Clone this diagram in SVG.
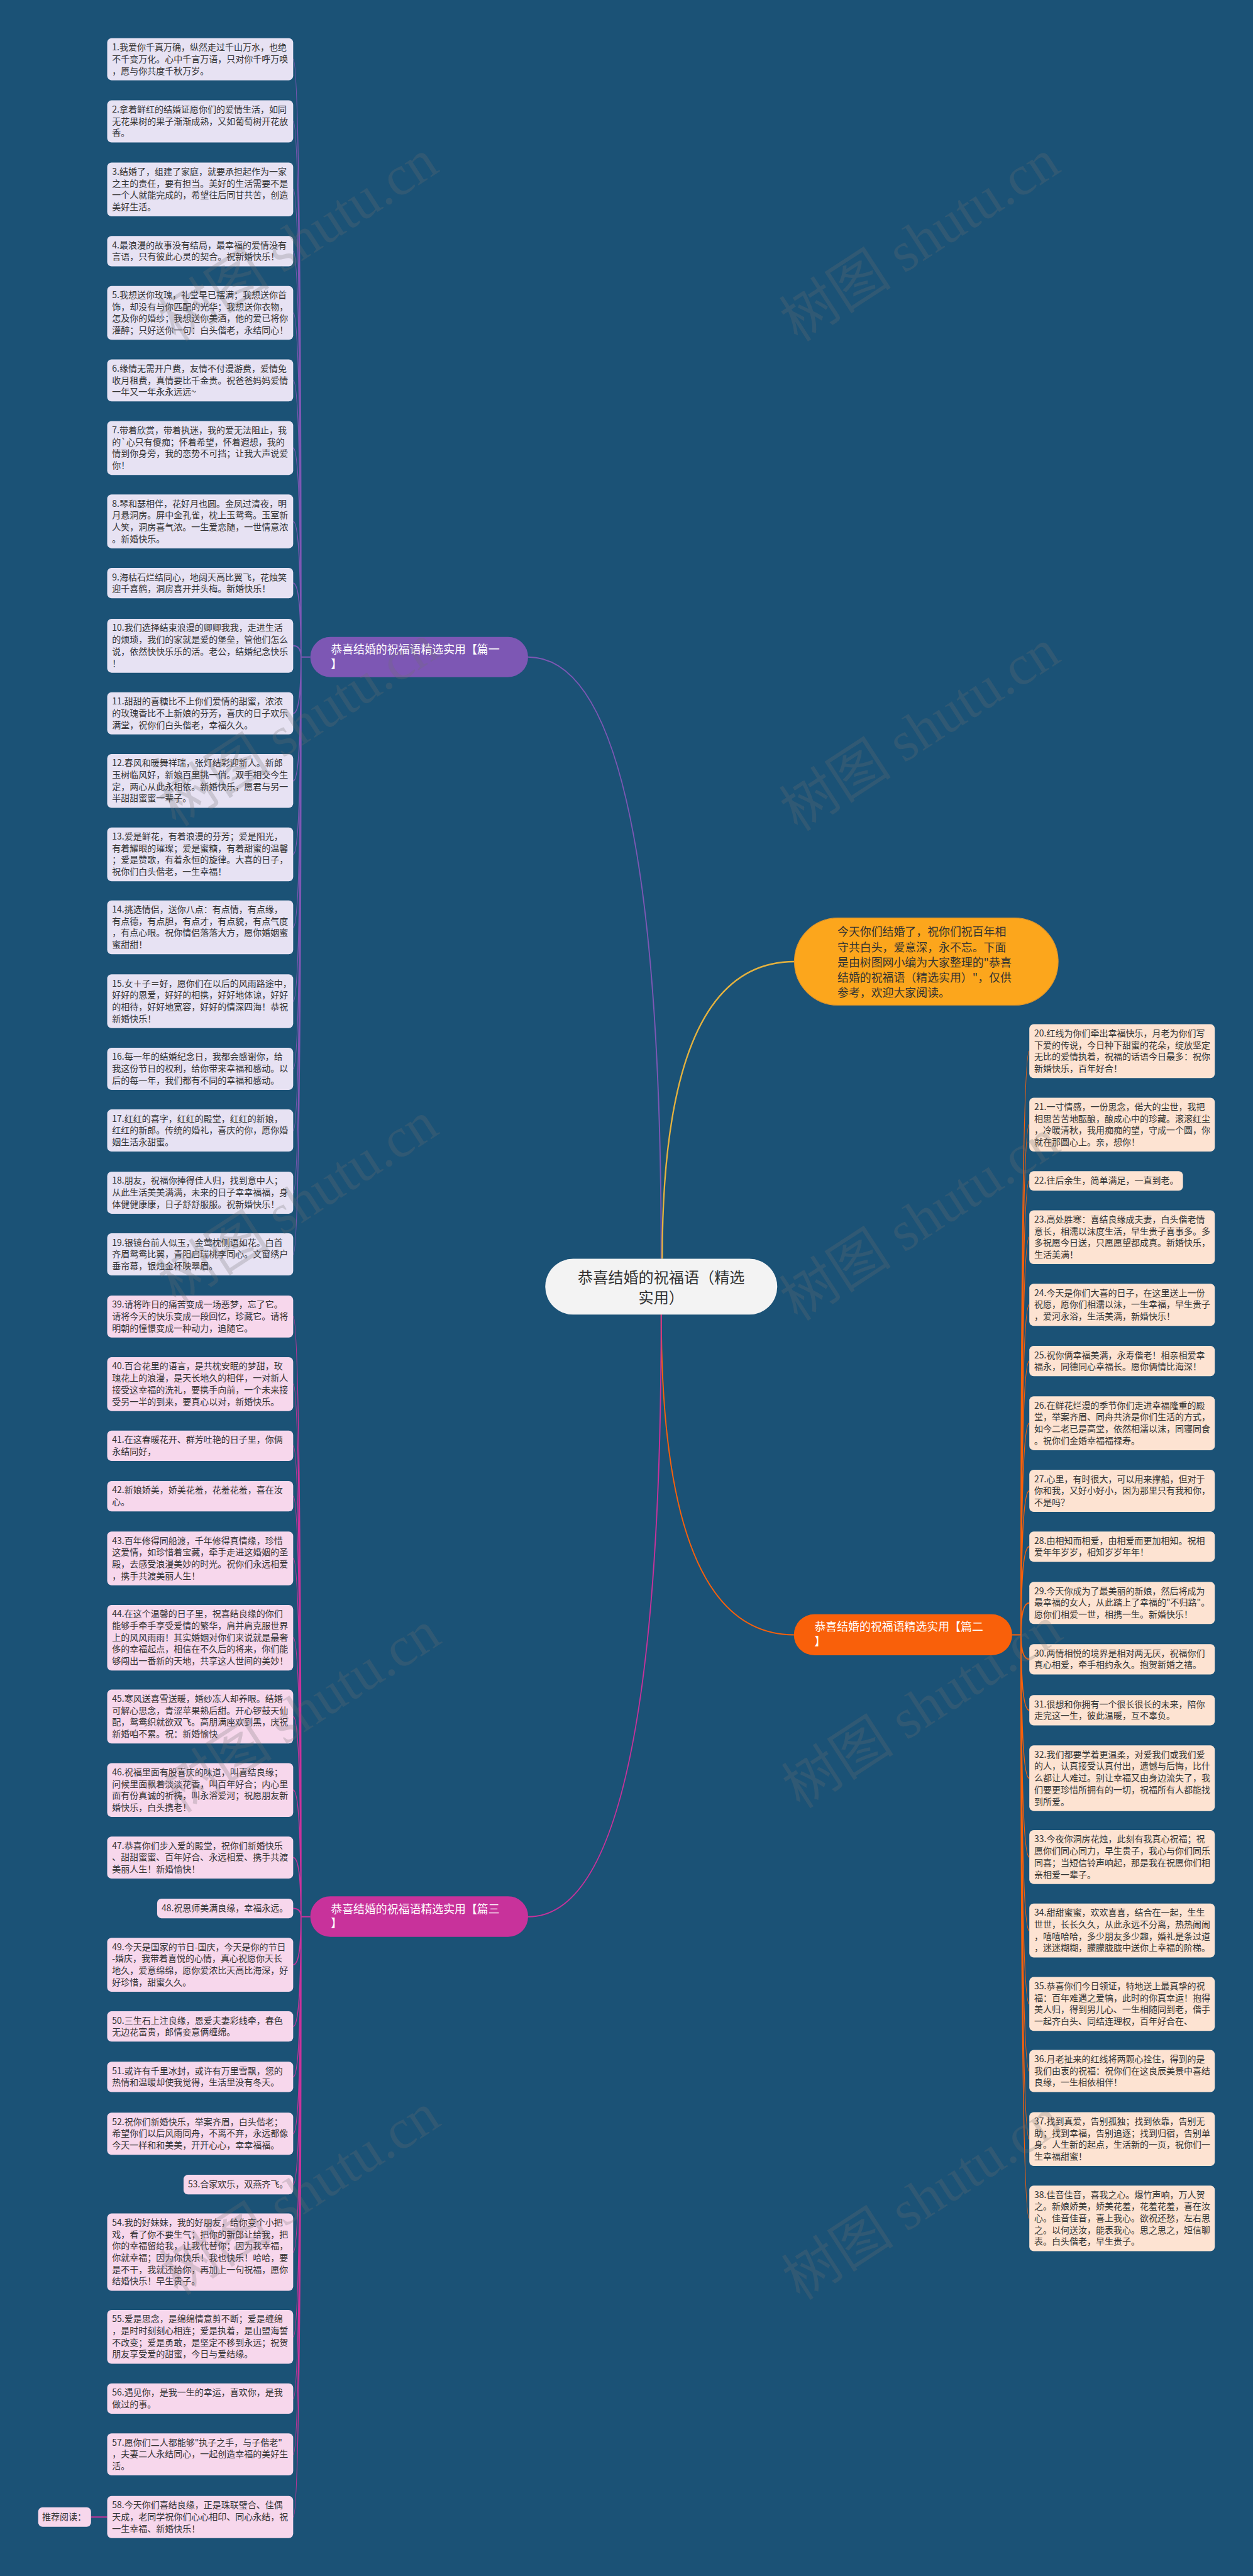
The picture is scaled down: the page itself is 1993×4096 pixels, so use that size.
<svg xmlns="http://www.w3.org/2000/svg" width="1993" height="4096" viewBox="0 0 1993 4096">
<style>
text{font-family:"Noto Sans CJK SC","Liberation Sans",sans-serif}
.t{font-size:18px;fill:#333333}
.lab{font-size:23px;fill:#ffffff}
.l1{fill:#E7E2F3}
.l2{fill:#FDE3D2}
.l3{fill:#F7D7EC}
.c1{fill:none;stroke:#7D57B4;stroke-width:2.5}
.c2{fill:none;stroke:#F9600A;stroke-width:2.5}
.c3{fill:none;stroke:#C8329B;stroke-width:2.5}
.wm{font-family:"Liberation Serif","Noto Sans CJK SC",serif;font-size:115px;fill:#707070;fill-opacity:0.25}
</style>
<rect width="1993" height="4096" fill="#1B5276"/>
<g transform="scale(0.7785)">
<g id="connectors">
<path d="M1351 2571 Q1351 1342 1079 1342" class="c1" stroke-width="3"/>
<path d="M1353 2571 Q1353 1964 1623 1964" fill="none" stroke="#E5B23E" stroke-width="3"/>
<path d="M1351 2685 Q1351 3339 1622 3339" class="c2" stroke-width="3"/>
<path d="M1351 2685 Q1351 3915 1079 3915" class="c3" stroke-width="3"/>
<path class="c1" d="M634 1342 H615 M615 1342 Q615 121 599 121 M615 1342 Q615 248 599 248 M615 1342 Q615 387 599 387 M615 1342 Q615 513 599 513 M615 1342 Q615 639 599 639 M615 1342 Q615 777 599 777 M615 1342 Q615 915 599 915 M615 1342 Q615 1065 599 1065 M615 1342 Q615 1191 599 1191 M615 1342 Q615 1319 599 1319 M615 1342 Q615 1457 599 1457 M615 1342 Q615 1595 599 1595 M615 1342 Q615 1745 599 1745 M615 1342 Q615 1894 599 1894 M615 1342 Q615 2045 599 2045 M615 1342 Q615 2183 599 2183 M615 1342 Q615 2309 599 2309 M615 1342 Q615 2436 599 2436 M615 1342 Q615 2562 599 2562"/>
<path class="c2" d="M2068 3339 H2086 M2086 3339 Q2086 2147 2103 2147 M2086 3339 Q2086 2297 2103 2297 M2086 3339 Q2086 2412 2103 2412 M2086 3339 Q2086 2527 2103 2527 M2086 3339 Q2086 2665 2103 2665 M2086 3339 Q2086 2780 2103 2780 M2086 3339 Q2086 2907 2103 2907 M2086 3339 Q2086 3045 2103 3045 M2086 3339 Q2086 3159 2103 3159 M2086 3339 Q2086 3274 2103 3274 M2086 3339 Q2086 3389 2103 3389 M2086 3339 Q2086 3493 2103 3493 M2086 3339 Q2086 3632 2103 3632 M2086 3339 Q2086 3793 2103 3793 M2086 3339 Q2086 3943 2103 3943 M2086 3339 Q2086 4093 2103 4093 M2086 3339 Q2086 4230 2103 4230 M2086 3339 Q2086 4369 2103 4369 M2086 3339 Q2086 4531 2103 4531"/>
<path class="c3" d="M634 3915 H615 M615 3915 Q615 2689 599 2689 M615 3915 Q615 2827 599 2827 M615 3915 Q615 2953 599 2953 M615 3915 Q615 3056 599 3056 M615 3915 Q615 3183 599 3183 M615 3915 Q615 3345 599 3345 M615 3915 Q615 3506 599 3506 M615 3915 Q615 3656 599 3656 M615 3915 Q615 3794 599 3794 M615 3915 Q615 3898 599 3898 M615 3915 Q615 4013 599 4013 M615 3915 Q615 4139 599 4139 M615 3915 Q615 4242 599 4242 M615 3915 Q615 4358 599 4358 M615 3915 Q615 4462 599 4462 M615 3915 Q615 4600 599 4600 M615 3915 Q615 4773 599 4773 M615 3915 Q615 4899 599 4899 M615 3915 Q615 5013 599 5013 M615 3915 Q615 5141 599 5141 M186 5141 H219"/>
</g>

<g id="root"><rect x="1114" y="2571" width="474" height="114" rx="57" fill="#F3F3F3"/><text font-size="31" fill="#333" text-anchor="middle"><tspan x="1351" y="2620">恭喜结婚的祝福语（精选</tspan><tspan x="1351" y="2661">实用）</tspan></text></g>

<g id="intro"><rect x="1623" y="1875" width="539" height="178" rx="89" fill="#FCA61C" stroke="#E0952A" stroke-width="1.5"/><text font-size="23" fill="#333"><tspan x="1711" y="1912">今天你们结婚了，祝你们祝百年相</tspan><tspan x="1711" y="1943">守共白头，爱意深，永不忘。下面</tspan><tspan x="1711" y="1974">是由树图网小编为大家整理的"恭喜</tspan><tspan x="1711" y="2005">结婚的祝福语（精选实用）"，仅供</tspan><tspan x="1711" y="2036">参考，欢迎大家阅读。</tspan></text></g>

<g id="b1"><rect x="634" y="1301" width="445" height="82" rx="41" fill="#7D57B4"/><text class="lab"><tspan x="676" y="1335">恭喜结婚的祝福语精选实用【篇一</tspan><tspan x="676" y="1364">】</tspan></text></g>
<g id="b2"><rect x="1622" y="3297" width="446" height="84" rx="42" fill="#F9600A"/><text class="lab"><tspan x="1664" y="3331">恭喜结婚的祝福语精选实用【篇二</tspan><tspan x="1664" y="3360">】</tspan></text></g>
<g id="b3"><rect x="634" y="3873" width="445" height="83" rx="41" fill="#C8329B"/><text class="lab"><tspan x="676" y="3907">恭喜结婚的祝福语精选实用【篇三</tspan><tspan x="676" y="3936">】</tspan></text></g>

<g id="n1"><rect class="l1" x="219" y="78" width="380" height="86" rx="9"/><text class="t"><tspan x="229" y="103">1.我爱你千真万确，纵然走过千山万水，也绝</tspan><tspan x="229" y="127">不千变万化。心中千言万语，只对你千呼万唤</tspan><tspan x="229" y="151">，愿与你共度千秋万岁。</tspan></text></g>
<g id="n2"><rect class="l1" x="219" y="205" width="380" height="86" rx="9"/><text class="t"><tspan x="229" y="230">2.拿着鲜红的结婚证愿你们的爱情生活，如同</tspan><tspan x="229" y="254">无花果树的果子渐渐成熟，又如葡萄树开花放</tspan><tspan x="229" y="278">香。</tspan></text></g>
<g id="n3"><rect class="l1" x="219" y="332" width="380" height="110" rx="9"/><text class="t"><tspan x="229" y="357">3.结婚了，组建了家庭，就要承担起作为一家</tspan><tspan x="229" y="381">之主的责任，要有担当。美好的生活需要不是</tspan><tspan x="229" y="405">一个人就能完成的，希望往后同甘共苦，创造</tspan><tspan x="229" y="429">美好生活。</tspan></text></g>
<g id="n4"><rect class="l1" x="219" y="482" width="380" height="62" rx="9"/><text class="t"><tspan x="229" y="507">4.最浪漫的故事没有结局，最幸福的爱情没有</tspan><tspan x="229" y="531">言语，只有彼此心灵的契合。祝新婚快乐！</tspan></text></g>
<g id="n5"><rect class="l1" x="219" y="584" width="380" height="110" rx="9"/><text class="t"><tspan x="229" y="609">5.我想送你玫瑰，礼堂早已摆满；我想送你首</tspan><tspan x="229" y="633">饰，却没有与你匹配的光华；我想送你衣物，</tspan><tspan x="229" y="657">怎及你的婚纱；我想送你美酒，他的爱已将你</tspan><tspan x="229" y="681">灌醉；只好送你一句：白头偕老，永结同心！</tspan></text></g>
<g id="n6"><rect class="l1" x="219" y="734" width="380" height="86" rx="9"/><text class="t"><tspan x="229" y="759">6.缘情无需开户费，友情不付漫游费，爱情免</tspan><tspan x="229" y="783">收月租费，真情要比千金贵。祝爸爸妈妈爱情</tspan><tspan x="229" y="807">一年又一年永永远远~</tspan></text></g>
<g id="n7"><rect class="l1" x="219" y="860" width="380" height="110" rx="9"/><text class="t"><tspan x="229" y="885">7.带着欣赏，带着执迷，我的爱无法阻止，我</tspan><tspan x="229" y="909">的`心只有傻痴；怀着希望，怀着遐想，我的</tspan><tspan x="229" y="933">情到你身旁，我的恋势不可挡；让我大声说爱</tspan><tspan x="229" y="957">你！</tspan></text></g>
<g id="n8"><rect class="l1" x="219" y="1010" width="380" height="110" rx="9"/><text class="t"><tspan x="229" y="1035">8.琴和瑟相伴，花好月也圆。金凤过清夜，明</tspan><tspan x="229" y="1059">月悬洞房。屏中金孔雀，枕上玉鸳鸯。玉室新</tspan><tspan x="229" y="1083">人笑，洞房喜气浓。一生爱恋随，一世情意浓</tspan><tspan x="229" y="1107">。新婚快乐。</tspan></text></g>
<g id="n9"><rect class="l1" x="219" y="1160" width="380" height="62" rx="9"/><text class="t"><tspan x="229" y="1185">9.海枯石烂结同心，地阔天高比翼飞，花烛笑</tspan><tspan x="229" y="1209">迎千喜鹤，洞房喜开并头梅。新婚快乐！</tspan></text></g>
<g id="n10"><rect class="l1" x="219" y="1264" width="380" height="110" rx="9"/><text class="t"><tspan x="229" y="1289">10.我们选择结束浪漫的卿卿我我，走进生活</tspan><tspan x="229" y="1313">的烦琐，我们的家就是爱的堡垒，管他们怎么</tspan><tspan x="229" y="1337">说，依然快快乐乐的活。老公，结婚纪念快乐</tspan><tspan x="229" y="1361">！</tspan></text></g>
<g id="n11"><rect class="l1" x="219" y="1414" width="380" height="86" rx="9"/><text class="t"><tspan x="229" y="1439">11.甜甜的喜糖比不上你们爱情的甜蜜，浓浓</tspan><tspan x="229" y="1463">的玫瑰香比不上新娘的芬芳，喜庆的日子欢乐</tspan><tspan x="229" y="1487">满堂，祝你们白头偕老，幸福久久。</tspan></text></g>
<g id="n12"><rect class="l1" x="219" y="1540" width="380" height="110" rx="9"/><text class="t"><tspan x="229" y="1565">12.春风和暖舞祥瑞，张灯结彩迎新人。新郎</tspan><tspan x="229" y="1589">玉树临风好，新娘百里挑一俏。双手相交今生</tspan><tspan x="229" y="1613">定，两心从此永相依。新婚快乐，愿君与另一</tspan><tspan x="229" y="1637">半甜甜蜜蜜一辈子。</tspan></text></g>
<g id="n13"><rect class="l1" x="219" y="1690" width="380" height="110" rx="9"/><text class="t"><tspan x="229" y="1715">13.爱是鲜花，有着浪漫的芬芳；爱是阳光，</tspan><tspan x="229" y="1739">有着耀眼的璀璨；爱是蜜糖，有着甜蜜的温馨</tspan><tspan x="229" y="1763">；爱是赞歌，有着永恒的旋律。大喜的日子，</tspan><tspan x="229" y="1787">祝你们白头偕老，一生幸福！</tspan></text></g>
<g id="n14"><rect class="l1" x="219" y="1839" width="380" height="110" rx="9"/><text class="t"><tspan x="229" y="1864">14.挑选情侣，送你八点：有点情，有点缘，</tspan><tspan x="229" y="1888">有点德，有点胆，有点才，有点貌，有点气度</tspan><tspan x="229" y="1912">，有点心眼。祝你情侣落落大方，愿你婚姻蜜</tspan><tspan x="229" y="1936">蜜甜甜！</tspan></text></g>
<g id="n15"><rect class="l1" x="219" y="1990" width="380" height="110" rx="9"/><text class="t"><tspan x="229" y="2015">15.女＋子＝好，愿你们在以后的风雨路途中，</tspan><tspan x="229" y="2039">好好的恩爱，好好的相携，好好地体谅，好好</tspan><tspan x="229" y="2063">的相待，好好地宽容，好好的情深四海！恭祝</tspan><tspan x="229" y="2087">新婚快乐！</tspan></text></g>
<g id="n16"><rect class="l1" x="219" y="2140" width="380" height="86" rx="9"/><text class="t"><tspan x="229" y="2165">16.每一年的结婚纪念日，我都会感谢你，给</tspan><tspan x="229" y="2189">我这份节日的权利，给你带来幸福和感动。以</tspan><tspan x="229" y="2213">后的每一年，我们都有不同的幸福和感动。</tspan></text></g>
<g id="n17"><rect class="l1" x="219" y="2266" width="380" height="86" rx="9"/><text class="t"><tspan x="229" y="2291">17.红红的喜字，红红的殿堂，红红的新娘，</tspan><tspan x="229" y="2315">红红的新郎。传统的婚礼，喜庆的你，愿你婚</tspan><tspan x="229" y="2339">姻生活永甜蜜。</tspan></text></g>
<g id="n18"><rect class="l1" x="219" y="2393" width="380" height="86" rx="9"/><text class="t"><tspan x="229" y="2418">18.朋友，祝福你捧得佳人归，找到意中人；</tspan><tspan x="229" y="2442">从此生活美美满满，未来的日子幸幸福福，身</tspan><tspan x="229" y="2466">体健健康康，日子舒舒服服。祝新婚快乐！</tspan></text></g>
<g id="n19"><rect class="l1" x="219" y="2519" width="380" height="86" rx="9"/><text class="t"><tspan x="229" y="2544">19.银镜台前人似玉，金莺枕侧语如花。白首</tspan><tspan x="229" y="2568">齐眉鸳鸯比翼，青阳启瑞桃李同心。文窗绣户</tspan><tspan x="229" y="2592">垂帘幕，银烛金杯映翠眉。</tspan></text></g>

<g id="n20"><rect class="l2" x="2103" y="2092" width="379" height="110" rx="9"/><text class="t"><tspan x="2113" y="2117">20.红线为你们牵出幸福快乐，月老为你们写</tspan><tspan x="2113" y="2141">下爱的传说，今日种下甜蜜的花朵，绽放坚定</tspan><tspan x="2113" y="2165">无比的爱情执着，祝福的话语今日最多：祝你</tspan><tspan x="2113" y="2189">新婚快乐，百年好合！</tspan></text></g>
<g id="n21"><rect class="l2" x="2103" y="2242" width="379" height="110" rx="9"/><text class="t"><tspan x="2113" y="2267">21.一寸情感，一份思念，偌大的尘世，我把</tspan><tspan x="2113" y="2291">相思苦苦地酝酿，酿成心中的珍藏。滚滚红尘</tspan><tspan x="2113" y="2315">，冷暖清秋，我用痴痴的望，守成一个圆，你</tspan><tspan x="2113" y="2339">就在那圆心上。亲，想你！</tspan></text></g>
<g id="n22"><rect class="l2" x="2103" y="2392" width="314" height="40" rx="9"/><text class="t"><tspan x="2113" y="2418">22.往后余生，简单满足，一直到老。</tspan></text></g>
<g id="n23"><rect class="l2" x="2103" y="2472" width="379" height="110" rx="9"/><text class="t"><tspan x="2113" y="2497">23.高处胜寒：喜结良缘成夫妻，白头偕老情</tspan><tspan x="2113" y="2521">意长，相濡以沫度生活，早生贵子喜事多。多</tspan><tspan x="2113" y="2545">多祝愿今日送，只愿愿望都成真。新婚快乐，</tspan><tspan x="2113" y="2569">生活美满！</tspan></text></g>
<g id="n24"><rect class="l2" x="2103" y="2622" width="379" height="86" rx="9"/><text class="t"><tspan x="2113" y="2647">24.今天是你们大喜的日子，在这里送上一份</tspan><tspan x="2113" y="2671">祝愿，愿你们相濡以沫，一生幸福，早生贵子</tspan><tspan x="2113" y="2695">，爱河永浴，生活美满，新婚快乐！</tspan></text></g>
<g id="n25"><rect class="l2" x="2103" y="2749" width="379" height="62" rx="9"/><text class="t"><tspan x="2113" y="2774">25.祝你俩幸福美满，永寿偕老！相亲相爱幸</tspan><tspan x="2113" y="2798">福永，同德同心幸福长。愿你俩情比海深！</tspan></text></g>
<g id="n26"><rect class="l2" x="2103" y="2852" width="379" height="110" rx="9"/><text class="t"><tspan x="2113" y="2877">26.在鲜花烂漫的季节你们走进幸福隆重的殿</tspan><tspan x="2113" y="2901">堂，举案齐眉、同舟共济是你们生活的方式，</tspan><tspan x="2113" y="2925">如今二老已是高堂，依然相濡以沫，同寝同食</tspan><tspan x="2113" y="2949">。祝你们金婚幸福福禄寿。</tspan></text></g>
<g id="n27"><rect class="l2" x="2103" y="3002" width="379" height="86" rx="9"/><text class="t"><tspan x="2113" y="3027">27.心里，有时很大，可以用来撑船，但对于</tspan><tspan x="2113" y="3051">你和我，又好小好小，因为那里只有我和你，</tspan><tspan x="2113" y="3075">不是吗？</tspan></text></g>
<g id="n28"><rect class="l2" x="2103" y="3128" width="379" height="62" rx="9"/><text class="t"><tspan x="2113" y="3153">28.由相知而相爱，由相爱而更加相知。祝相</tspan><tspan x="2113" y="3177">爱年年岁岁，相知岁岁年年！</tspan></text></g>
<g id="n29"><rect class="l2" x="2103" y="3231" width="379" height="86" rx="9"/><text class="t"><tspan x="2113" y="3256">29.今天你成为了最美丽的新娘，然后将成为</tspan><tspan x="2113" y="3280">最幸福的女人，从此踏上了幸福的"不归路"。</tspan><tspan x="2113" y="3304">愿你们相爱一世，相携一生。新婚快乐！</tspan></text></g>
<g id="n30"><rect class="l2" x="2103" y="3358" width="379" height="62" rx="9"/><text class="t"><tspan x="2113" y="3383">30.两情相悦的境界是相对两无厌，祝福你们</tspan><tspan x="2113" y="3407">真心相爱，牵手相约永久。抱贺新婚之禧。</tspan></text></g>
<g id="n31"><rect class="l2" x="2103" y="3462" width="379" height="62" rx="9"/><text class="t"><tspan x="2113" y="3487">31.很想和你拥有一个很长很长的未来，陪你</tspan><tspan x="2113" y="3511">走完这一生，彼此温暖，互不辜负。</tspan></text></g>
<g id="n32"><rect class="l2" x="2103" y="3565" width="379" height="134" rx="9"/><text class="t"><tspan x="2113" y="3590">32.我们都要学着更温柔，对爱我们或我们爱</tspan><tspan x="2113" y="3614">的人，认真接受认真付出，遗憾与后悔，比什</tspan><tspan x="2113" y="3638">么都让人难过。别让幸福又由身边流失了，我</tspan><tspan x="2113" y="3662">们要更珍惜所拥有的一切，祝福所有人都能找</tspan><tspan x="2113" y="3686">到所爱。</tspan></text></g>
<g id="n33"><rect class="l2" x="2103" y="3738" width="379" height="110" rx="9"/><text class="t"><tspan x="2113" y="3763">33.今夜你洞房花烛，此刻有我真心祝福；祝</tspan><tspan x="2113" y="3787">愿你们同心同力，早生贵子，我心与你们同乐</tspan><tspan x="2113" y="3811">同喜；当短信铃声响起，那是我在祝愿你们相</tspan><tspan x="2113" y="3835">亲相爱一辈子。</tspan></text></g>
<g id="n34"><rect class="l2" x="2103" y="3888" width="379" height="110" rx="9"/><text class="t"><tspan x="2113" y="3913">34.甜甜蜜蜜，欢欢喜喜，结合在一起，生生</tspan><tspan x="2113" y="3937">世世，长长久久，从此永远不分离，热热闹闹</tspan><tspan x="2113" y="3961">，嘻嘻哈哈，多少朋友多少趣，婚礼是条过道</tspan><tspan x="2113" y="3985">，迷迷糊糊，朦朦胧胧中送你上幸福的阶梯。</tspan></text></g>
<g id="n35"><rect class="l2" x="2103" y="4038" width="379" height="110" rx="9"/><text class="t"><tspan x="2113" y="4063">35.恭喜你们今日领证，特地送上最真挚的祝</tspan><tspan x="2113" y="4087">福：百年难遇之爱犒，此时的你真幸运！抱得</tspan><tspan x="2113" y="4111">美人归，得到男儿心、一生相随同到老，偕手</tspan><tspan x="2113" y="4135">一起齐白头、同结连理权，百年好合在、</tspan></text></g>
<g id="n36"><rect class="l2" x="2103" y="4187" width="379" height="86" rx="9"/><text class="t"><tspan x="2113" y="4212">36.月老扯来的红线将两颗心拴住，得到的是</tspan><tspan x="2113" y="4236">我们由衷的祝福：祝你们在这良辰美景中喜结</tspan><tspan x="2113" y="4260">良缘，一生相依相伴！</tspan></text></g>
<g id="n37"><rect class="l2" x="2103" y="4314" width="379" height="110" rx="9"/><text class="t"><tspan x="2113" y="4339">37.找到真爱，告别孤独；找到依靠，告别无</tspan><tspan x="2113" y="4363">助；找到幸福，告别追逐；找到归宿，告别单</tspan><tspan x="2113" y="4387">身。人生新的起点，生活新的一页，祝你们一</tspan><tspan x="2113" y="4411">生幸福甜蜜！</tspan></text></g>
<g id="n38"><rect class="l2" x="2103" y="4464" width="379" height="134" rx="9"/><text class="t"><tspan x="2113" y="4489">38.佳音佳音，喜我之心。爆竹声响，万人贺</tspan><tspan x="2113" y="4513">之。新娘娇美，娇美花羞，花羞花羞，喜在汝</tspan><tspan x="2113" y="4537">心。佳音佳音，喜上我心。欲祝还愁，左右思</tspan><tspan x="2113" y="4561">之。以何送汝，能表我心。思之思之，短信聊</tspan><tspan x="2113" y="4585">表。白头偕老，早生贵子。</tspan></text></g>

<g id="n39"><rect class="l3" x="219" y="2646" width="380" height="86" rx="9"/><text class="t"><tspan x="229" y="2671">39.请将昨日的痛苦变成一场恶梦，忘了它。</tspan><tspan x="229" y="2695">请将今天的快乐变成一段回忆，珍藏它。请将</tspan><tspan x="229" y="2719">明朝的憧憬变成一种动力，追随它。</tspan></text></g>
<g id="n40"><rect class="l3" x="219" y="2772" width="380" height="110" rx="9"/><text class="t"><tspan x="229" y="2797">40.百合花里的语言，是共枕安眠的梦甜，玫</tspan><tspan x="229" y="2821">瑰花上的浪漫，是天长地久的相伴，一对新人</tspan><tspan x="229" y="2845">接受这幸福的洗礼，要携手向前，一个未来接</tspan><tspan x="229" y="2869">受另一半的到来，要真心以对，新婚快乐。</tspan></text></g>
<g id="n41"><rect class="l3" x="219" y="2922" width="380" height="62" rx="9"/><text class="t"><tspan x="229" y="2947">41.在这春暖花开、群芳吐艳的日子里，你俩</tspan><tspan x="229" y="2971">永结同好，</tspan></text></g>
<g id="n42"><rect class="l3" x="219" y="3025" width="380" height="62" rx="9"/><text class="t"><tspan x="229" y="3050">42.新娘娇美，娇美花羞，花羞花羞，喜在汝</tspan><tspan x="229" y="3074">心。</tspan></text></g>
<g id="n43"><rect class="l3" x="219" y="3128" width="380" height="110" rx="9"/><text class="t"><tspan x="229" y="3153">43.百年修得同船渡，千年修得真情缘，珍惜</tspan><tspan x="229" y="3177">这爱情，如珍惜着宝藏，牵手走进这婚姻的圣</tspan><tspan x="229" y="3201">殿，去感受浪漫美妙的时光。祝你们永远相爱</tspan><tspan x="229" y="3225">，携手共渡美丽人生！</tspan></text></g>
<g id="n44"><rect class="l3" x="219" y="3278" width="380" height="134" rx="9"/><text class="t"><tspan x="229" y="3303">44.在这个温馨的日子里，祝喜结良缘的你们</tspan><tspan x="229" y="3327">能够手牵手享受爱情的繁华，肩并肩克服世界</tspan><tspan x="229" y="3351">上的风风雨雨！其实婚姻对你们来说就是最奢</tspan><tspan x="229" y="3375">侈的幸福起点，相信在不久后的将来，你们能</tspan><tspan x="229" y="3399">够闯出一番新的天地，共享这人世间的美妙！</tspan></text></g>
<g id="n45"><rect class="l3" x="219" y="3451" width="380" height="110" rx="9"/><text class="t"><tspan x="229" y="3476">45.寒风送喜雪送暖，婚纱冻人却养眼。结婚</tspan><tspan x="229" y="3500">可解心思念，青涩苹果熟后甜。开心锣鼓天仙</tspan><tspan x="229" y="3524">配，鸳鸯织就欲双飞。高朋满座欢到黑，庆祝</tspan><tspan x="229" y="3548">新婚咱不累。祝：新婚愉快</tspan></text></g>
<g id="n46"><rect class="l3" x="219" y="3601" width="380" height="110" rx="9"/><text class="t"><tspan x="229" y="3626">46.祝福里面有股喜庆的味道，叫喜结良缘；</tspan><tspan x="229" y="3650">问候里面飘着淡淡花香，叫百年好合；内心里</tspan><tspan x="229" y="3674">面有份真诚的祈祷，叫永浴爱河；祝愿朋友新</tspan><tspan x="229" y="3698">婚快乐，白头携老！</tspan></text></g>
<g id="n47"><rect class="l3" x="219" y="3751" width="380" height="86" rx="9"/><text class="t"><tspan x="229" y="3776">47.恭喜你们步入爱的殿堂，祝你们新婚快乐</tspan><tspan x="229" y="3800">、甜甜蜜蜜、百年好合、永远相爱、携手共渡</tspan><tspan x="229" y="3824">美丽人生！新婚愉快！</tspan></text></g>
<g id="n48"><rect class="l3" x="321" y="3878" width="278" height="40" rx="9"/><text class="t"><tspan x="330" y="3904">48.祝恩师美满良缘，幸福永远。</tspan></text></g>
<g id="n49"><rect class="l3" x="219" y="3958" width="380" height="110" rx="9"/><text class="t"><tspan x="229" y="3983">49.今天是国家的节日-国庆，今天是你的节日</tspan><tspan x="229" y="4007">-婚庆，我带着喜悦的心情，真心祝愿你天长</tspan><tspan x="229" y="4031">地久，爱意绵绵，愿你爱浓比天高比海深，好</tspan><tspan x="229" y="4055">好珍惜，甜蜜久久。</tspan></text></g>
<g id="n50"><rect class="l3" x="219" y="4108" width="380" height="62" rx="9"/><text class="t"><tspan x="229" y="4133">50.三生石上注良缘，恩爱夫妻彩线牵，春色</tspan><tspan x="229" y="4157">无边花富贵，郎情妾意俩缠绵。</tspan></text></g>
<g id="n51"><rect class="l3" x="219" y="4211" width="380" height="62" rx="9"/><text class="t"><tspan x="229" y="4236">51.或许有千里冰封，或许有万里雪飘，您的</tspan><tspan x="229" y="4260">热情和温暖却使我觉得，生活里没有冬天。</tspan></text></g>
<g id="n52"><rect class="l3" x="219" y="4315" width="380" height="86" rx="9"/><text class="t"><tspan x="229" y="4340">52.祝你们新婚快乐，举案齐眉，白头偕老；</tspan><tspan x="229" y="4364">希望你们以后风雨同舟，不离不弃，永远都像</tspan><tspan x="229" y="4388">今天一样和和美美，开开心心，幸幸福福。</tspan></text></g>
<g id="n53"><rect class="l3" x="375" y="4442" width="224" height="40" rx="9"/><text class="t"><tspan x="384" y="4468">53.合家欢乐，双燕齐飞。</tspan></text></g>
<g id="n54"><rect class="l3" x="219" y="4521" width="380" height="158" rx="9"/><text class="t"><tspan x="229" y="4546">54.我的好妹妹，我的好朋友，给你变个小把</tspan><tspan x="229" y="4570">戏，看了你不要生气；把你的新郎让给我，把</tspan><tspan x="229" y="4594">你的幸福留给我，让我代替你；因为我幸福，</tspan><tspan x="229" y="4618">你就幸福；因为你快乐！我也快乐！哈哈，要</tspan><tspan x="229" y="4642">是不干，我就还给你，再加上一句祝福，愿你</tspan><tspan x="229" y="4666">结婚快乐！早生贵子。</tspan></text></g>
<g id="n55"><rect class="l3" x="219" y="4718" width="380" height="110" rx="9"/><text class="t"><tspan x="229" y="4743">55.爱是思念，是绵绵情意剪不断；爱是缠绵</tspan><tspan x="229" y="4767">，是时时刻刻心相连；爱是执着，是山盟海誓</tspan><tspan x="229" y="4791">不改变；爱是勇敢，是坚定不移到永远；祝贺</tspan><tspan x="229" y="4815">朋友享受爱的甜蜜，今日与爱结缘。</tspan></text></g>
<g id="n56"><rect class="l3" x="219" y="4868" width="380" height="62" rx="9"/><text class="t"><tspan x="229" y="4893">56.遇见你，是我一生的幸运，喜欢你，是我</tspan><tspan x="229" y="4917">做过的事。</tspan></text></g>
<g id="n57"><rect class="l3" x="219" y="4970" width="380" height="86" rx="9"/><text class="t"><tspan x="229" y="4995">57.愿你们二人都能够"执子之手，与子偕老"</tspan><tspan x="229" y="5019">，夫妻二人永结同心，一起创造幸福的美好生</tspan><tspan x="229" y="5043">活。</tspan></text></g>
<g id="n58"><rect class="l3" x="219" y="5098" width="380" height="86" rx="9"/><text class="t"><tspan x="229" y="5123">58.今天你们喜结良缘，正是珠联璧合、佳偶</tspan><tspan x="229" y="5147">天成，老同学祝你们心心相印、同心永结，祝</tspan><tspan x="229" y="5171">一生幸福、新婚快乐！</tspan></text></g>
<g id="more"><rect class="l3" x="78" y="5121" width="108" height="40" rx="9"/><text class="t"><tspan x="86" y="5147">推荐阅读：</tspan></text></g>

<g id="watermark">
<text class="wm" transform="translate(360,700) rotate(-33)">树图 shutu.cn</text>
<text class="wm" transform="translate(360,1690) rotate(-33)">树图 shutu.cn</text>
<text class="wm" transform="translate(360,2665) rotate(-33)">树图 shutu.cn</text>
<text class="wm" transform="translate(365,3705) rotate(-33)">树图 shutu.cn</text>
<text class="wm" transform="translate(364,4690) rotate(-33)">树图 shutu.cn</text>
<text class="wm" transform="translate(1630,700) rotate(-33)">树图 shutu.cn</text>
<text class="wm" transform="translate(1630,1700) rotate(-33)">树图 shutu.cn</text>
<text class="wm" transform="translate(1630,2700) rotate(-33)">树图 shutu.cn</text>
<text class="wm" transform="translate(1635,3696) rotate(-33)">树图 shutu.cn</text>
<text class="wm" transform="translate(1635,4700) rotate(-33)">树图 shutu.cn</text>
</g>
</g>
</svg>
